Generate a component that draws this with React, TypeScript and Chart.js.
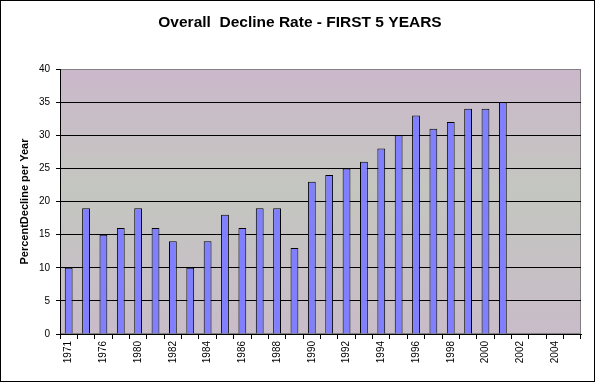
import React, { useEffect, useRef } from "react";
import { Chart, registerables } from "chart.js";

Chart.register(...registerables);

const TITLE = "Overall  Decline Rate - FIRST 5 YEARS";
const Y_TITLE = "PercentDecline per Year";

const categories = [
  "1971", "1975", "1976", "1978", "1980", "1981", "1982", "1983", "1984", "1985",
  "1986", "1987", "1988", "1989", "1990", "1991", "1992", "1993", "1994", "1995",
  "1996", "1997", "1998", "1999", "2000", "2001", "2002", "2003", "2004", "2005",
];

const declineRate: (number | null)[] = [
  10, 19, 15, 16, 19, 16, 14, 10, 14, 18,
  16, 19, 19, 13, 23, 24, 25, 26, 28, 30,
  33, 31, 32, 34, 34, 35, null, null, null, null,
];

const yTicks = [0, 5, 10, 15, 20, 25, 30, 35, 40];

export default function App() {
  const ref = useRef<HTMLCanvasElement | null>(null);

  useEffect(() => {
    document.body.style.margin = "0";
    const canvas = ref.current;
    if (!canvas) return;

    const framePlugin = {
      id: "frame",
      beforeDraw(chart: any) {
        const { ctx, chartArea: a, width, height } = chart;
        ctx.save();
        ctx.fillStyle = "#ffffff";
        ctx.fillRect(0, 0, width, height);
        const g = ctx.createLinearGradient(0, a.top, 0, a.bottom);
        g.addColorStop(0, "#cbb8cb");
        g.addColorStop(0.45, "#c4c6c0");
        g.addColorStop(1, "#c8bcc8");
        ctx.fillStyle = g;
        ctx.fillRect(a.left, a.top, a.right - a.left, a.bottom - a.top);
        ctx.strokeStyle = "#808080";
        ctx.lineWidth = 1;
        ctx.strokeRect(a.left + 0.5, a.top + 0.5, a.right - a.left - 1, a.bottom - a.top - 1);
        ctx.strokeStyle = "#000000";
        ctx.strokeRect(0.5, 0.5, width - 1, height - 1);
        ctx.fillStyle = "#000000";
        ctx.font = "bold 15.5px 'Liberation Sans', Arial, sans-serif";
        ctx.textAlign = "center";
        ctx.textBaseline = "middle";
        ctx.fillText(TITLE, 300, 23);
        ctx.restore();
      },
    };

    const chart = new Chart(canvas, {
      type: "bar",
      data: {
        labels: categories,
        datasets: [
          {
            data: declineRate,
            backgroundColor: "#8080ff",
            borderColor: "#000000",
            borderWidth: 1,
            barPercentage: 0.45,
            categoryPercentage: 1,
          },
        ],
      },
      options: {
        animation: false,
        responsive: false,
        devicePixelRatio: 1,
        layout: { padding: { top: 69, right: 14, left: 0, bottom: 0 } },
        plugins: {
          legend: { display: false },
          title: { display: false },
          tooltip: { enabled: false },
        },
        scales: {
          x: {
            offset: true,
            grid: {
              offset: true,
              drawOnChartArea: false,
              drawTicks: true,
              tickLength: 5,
              color: "#000000",
            },
            border: { display: true, color: "#000000" },
            ticks: {
              autoSkip: false,
              maxRotation: 90,
              minRotation: 90,
              padding: 2,
              color: "#000000",
              font: { family: "'Liberation Sans', Arial, sans-serif", size: 10 },
              callback: (_v: any, i: number) => (i % 2 === 0 ? categories[i] : ""),
            },
            afterFit: (s: any) => {
              s.height = 48;
            },
          },
          y: {
            min: 0,
            max: 40,
            afterBuildTicks: (s: any) => {
              s.ticks = yTicks.map((v) => ({ value: v }));
            },
            grid: {
              color: (c: any) => (c.tick && c.tick.value === 40 ? "rgba(0,0,0,0)" : "#000000"),
              tickColor: "#000000",
              tickLength: 4,
              lineWidth: 1,
            },
            border: { display: true, color: "#000000" },
            ticks: {
              padding: 6,
              color: "#000000",
              font: { family: "'Liberation Sans', Arial, sans-serif", size: 10 },
            },
            title: {
              display: true,
              text: Y_TITLE,
              color: "#000000",
              font: { family: "'Liberation Sans', Arial, sans-serif", size: 11, weight: "bold" },
              padding: { top: 18, bottom: 0 },
            },
            afterFit: (s: any) => {
              s.width = 60;
            },
          },
        },
      },
      plugins: [framePlugin],
    });

    return () => chart.destroy();
  }, []);

  return <canvas ref={ref} width={595} height={382} style={{ display: "block" }} />;
}
